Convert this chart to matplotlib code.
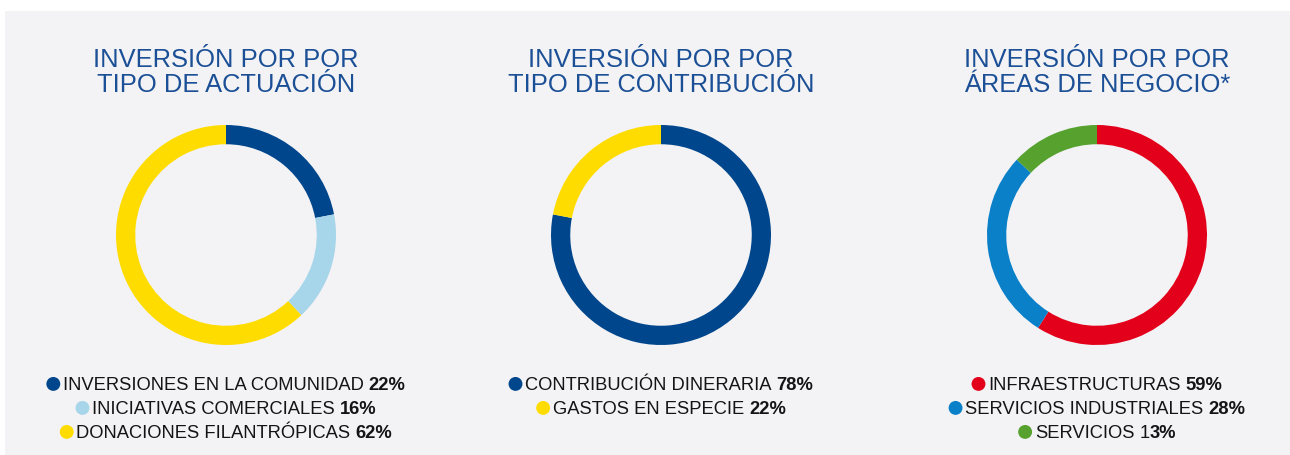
import matplotlib
matplotlib.use("Agg")
import matplotlib.pyplot as plt
from matplotlib.patches import Rectangle, Circle
from matplotlib.offsetbox import TextArea, DrawingArea, HPacker, AnnotationBbox

plt.rcParams['font.family'] = ['Liberation Sans', 'DejaVu Sans']

W, H = 1290, 455

# Data
titles = [
    ['INVERSIÓN POR POR', 'TIPO DE ACTUACIÓN'],
    ['INVERSIÓN POR POR', 'TIPO DE CONTRIBUCIÓN'],
    ['INVERSIÓN POR POR', 'ÁREAS DE NEGOCIO*'],
]
act_labels = ['INVERSIONES EN LA COMUNIDAD', 'INICIATIVAS COMERCIALES', 'DONACIONES FILANTRÓPICAS']
act_values = [22, 16, 62]
con_labels = ['CONTRIBUCIÓN DINERARIA', 'GASTOS EN ESPECIE']
con_values = [78, 22]
neg_labels = ['INFRAESTRUCTURAS', 'SERVICIOS INDUSTRIALES', 'SERVICIOS']
neg_values = [59, 28, 13]

act_colors = ['#00468c', '#a7d5e9', '#ffdc00']
con_colors = ['#00468c', '#ffdc00']
neg_colors = ['#e2001a', '#0a80c8', '#57a22e']

title_color = '#1b4f96'
panel_color = '#f3f3f5'
text_color = '#141414'

charts = [
    (act_labels, act_values, act_colors),
    (con_labels, con_values, con_colors),
    (neg_labels, neg_values, neg_colors),
]
centers_x = [226, 661, 1097]   # pixel centres of each donut
center_y = 235
radius_px = 110

fig = plt.figure(figsize=(W / 100, H / 100), dpi=100)
fig.patch.set_facecolor('white')
fig.patches.append(Rectangle((5 / W, 0), 1 - 5 / W, 1 - 11 / H,
                             transform=fig.transFigure, facecolor=panel_color,
                             edgecolor='none', zorder=-5))

legend_fs = 13.2

for (labels, values, colors), cx, title in zip(charts, centers_x, titles):
    ax = fig.add_axes([(cx - radius_px) / W, (H - center_y - radius_px) / H,
                       2 * radius_px / W, 2 * radius_px / H])
    ax.pie(values, colors=colors, startangle=90, counterclock=False, radius=1,
           wedgeprops=dict(width=0.175, edgecolor='none'))
    ax.set_xlim(-1, 1)
    ax.set_ylim(-1, 1)
    ax.set_aspect('equal')
    ax.axis('off')

    # two-line title
    for line, ybase in zip(title, [67, 92]):
        fig.text(cx / W, 1 - ybase / H, line, ha='center', va='baseline',
                 fontsize=18.4, color=title_color)

    # legend lines: marker + label + bold value
    for i, (lab, val, col) in enumerate(zip(labels, values, colors)):
        # circle sits a bit high so it lines up with the capitals
        da = DrawingArea(10, 13, 0, 0)
        da.add_artist(Circle((5, 8), 5, facecolor=col, edgecolor='none'))
        normal = dict(fontsize=legend_fs, color=text_color)
        bold = dict(fontsize=legend_fs, color=text_color, fontweight='bold')
        if lab == 'SERVICIOS':
            # the reference sets only "3%" in bold
            value_part = HPacker(children=[TextArea('1', textprops=normal),
                                           TextArea('3%', textprops=bold)],
                                 sep=0, pad=0, align='baseline')
        else:
            value_part = TextArea(f'{val}%', textprops=bold)
        txt = HPacker(children=[TextArea(lab, textprops=normal), value_part],
                      sep=3.5, pad=0, align='baseline')
        row = HPacker(children=[da, txt], sep=2, pad=0, align='center')
        ab = AnnotationBbox(row, (cx / W, 1 - (386 + 24 * i) / H), xycoords='figure fraction',
                            frameon=False, box_alignment=(0.5, 0.5), pad=0)
        fig.add_artist(ab)

fig.savefig('out.png', dpi=100, facecolor=fig.get_facecolor())
